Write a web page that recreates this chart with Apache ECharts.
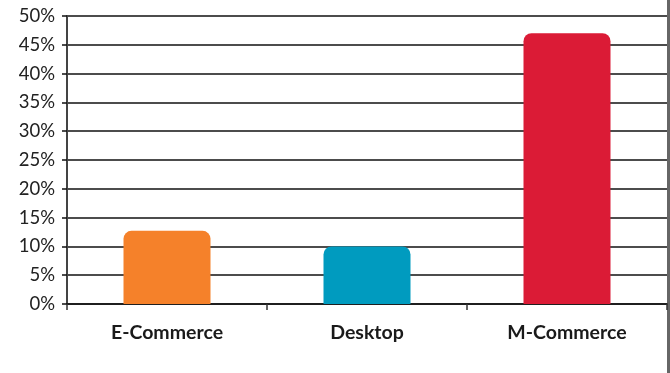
<!DOCTYPE html>
<html>
<head>
<meta charset="utf-8">
<script src="https://cdn.jsdelivr.net/npm/echarts@6/dist/echarts.min.js"></script>
<style>
html,body{margin:0;padding:0;background:#fff;}
#c{width:670px;height:373px;}
</style>
</head>
<body>
<div id="c"></div>
<script>
const categories = ['E-Commerce', 'Desktop', 'M-Commerce'];
const values = [12.7, 10, 47];
const barColors = ['#F5812A', '#009BBF', '#DB1B36'];

const chart = echarts.init(document.getElementById('c'), null, {renderer: 'canvas'});
chart.setOption({
  animation: false,
  backgroundColor: '#fff',
  grid: {left: 67, right: 3, top: 16, bottom: 69, containLabel: false},
  xAxis: {
    type: 'category',
    data: categories,
    axisLine: {show: true, lineStyle: {color: '#111', width: 1.5}},
    axisTick: {show: true, length: 6, lineStyle: {color: '#333', width: 1.5}},
    axisLabel: {
      margin: 19,
      fontFamily: 'Lato',
      fontWeight: 'bold',
      fontSize: 19.5,
      color: '#1a1a1a'
    }
  },
  yAxis: {
    type: 'value',
    min: 0, max: 50, interval: 5,
    axisLine: {show: true, lineStyle: {color: '#444', width: 2}},
    axisTick: {show: true, length: 5, lineStyle: {color: '#111', width: 1.5}},
    splitLine: {show: true, lineStyle: {color: '#111', width: 1.5}},
    axisLabel: {
      margin: 12,
      fontFamily: 'Lato',
      fontSize: 18.5,
      color: '#222',
      formatter: '{value}%'
    }
  },
  series: [{
    type: 'bar',
    data: values.map((v, i) => ({value: v, itemStyle: {color: barColors[i]}})),
    barWidth: 87,
    itemStyle: {borderRadius: [8, 8, 0, 0]}
  }],
  graphic: [{
    type: 'rect',
    right: 0, top: 0,
    shape: {width: 3, height: 373},
    style: {fill: '#666'}
  }]
});
</script>
</body>
</html>
